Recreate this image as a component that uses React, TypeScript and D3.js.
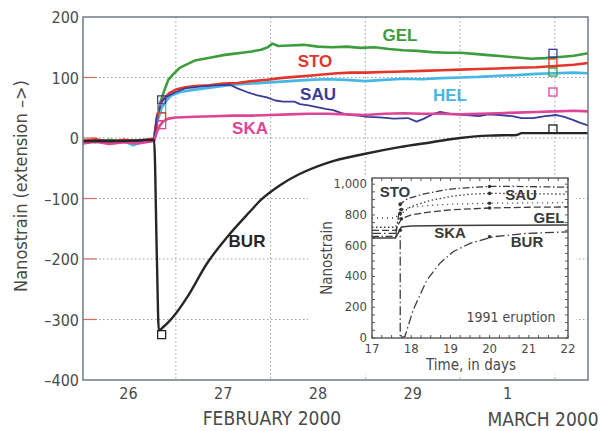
import React from 'react';
import * as d3 from 'd3';

type Pt = [number, number];

// main chart: days after 26 Feb 2000 00:00, nanostrain
const GEL: Pt[] = [[0.02,-4],[0.15,-7],[0.3,-3],[0.45,-6],[0.6,-4],[0.77,-2],[0.8,30],[0.83,55],[0.87,75],[0.92,96],[0.97,105],[1.04,116],[1.12,122],[1.2,128],[1.3,131],[1.4,134],[1.5,137],[1.6,139],[1.7,141],[1.8,143],[1.9,146],[1.97,150],[2.02,156],[2.08,152],[2.2,153],[2.35,154],[2.5,151],[2.65,150],[2.8,151],[2.95,149],[3.1,150],[3.25,147],[3.4,145],[3.55,144],[3.7,142],[3.85,141],[4.0,141],[4.15,139],[4.3,137],[4.45,135],[4.6,133],[4.75,131],[4.9,132],[5.05,134],[5.2,136],[5.35,140]];
const STO: Pt[] = [[0.02,-5],[0.15,-2],[0.3,-6],[0.45,-3],[0.6,-5],[0.77,-1],[0.8,35],[0.84,58],[0.88,66],[0.93,74],[1.0,80],[1.1,84],[1.2,86],[1.35,87],[1.5,90],[1.65,91],[1.8,94],[1.95,96],[2.1,99],[2.25,101],[2.4,103],[2.55,105],[2.7,107],[2.85,108],[3.0,108],[3.2,109],[3.4,110],[3.6,111],[3.8,112],[4.0,113],[4.2,114],[4.4,115],[4.6,116],[4.8,117],[5.0,119],[5.2,121],[5.35,124]];
const HEL: Pt[] = [[0.02,-8],[0.15,-4],[0.3,-9],[0.45,-5],[0.55,-12],[0.65,-6],[0.77,-4],[0.8,25],[0.85,50],[0.9,62],[0.95,70],[1.05,76],[1.2,80],[1.4,84],[1.6,88],[1.8,90],[2.0,92],[2.2,94],[2.4,96],[2.6,97],[2.8,96],[3.0,94],[3.2,96],[3.4,98],[3.6,97],[3.8,99],[4.0,100],[4.2,101],[4.4,103],[4.6,104],[4.8,106],[5.0,107],[5.2,108],[5.35,107]];
const SAU: Pt[] = [[0.02,-6],[0.2,-4],[0.4,-7],[0.6,-5],[0.77,-3],[0.8,35],[0.85,60],[0.9,68],[1.0,76],[1.1,82],[1.25,85],[1.4,87],[1.57,88],[1.65,82],[1.75,76],[1.85,71],[1.96,67],[2.05,62],[2.13,60],[2.25,60],[2.31,56],[2.4,54],[2.49,51],[2.58,48],[2.66,46],[2.75,41],[2.84,38],[2.93,37],[3.02,35],[3.15,34],[3.3,32],[3.45,33],[3.54,27],[3.62,32],[3.72,40],[3.79,43],[3.9,40],[4.07,38],[4.2,36],[4.3,39],[4.42,38],[4.55,36],[4.65,33],[4.77,33],[4.9,36],[5.02,38],[5.1,35],[5.19,30],[5.27,25],[5.35,21]];
const SKA: Pt[] = [[0.02,-9],[0.15,-6],[0.3,-10],[0.45,-7],[0.6,-9],[0.77,-5],[0.8,10],[0.83,20],[0.87,28],[0.92,32],[1.0,34],[1.2,35],[1.4,36],[1.6,37],[1.8,37],[2.0,38],[2.2,39],[2.4,40],[2.6,40],[2.8,39],[3.0,38],[3.2,40],[3.4,41],[3.6,40],[3.8,40],[4.0,39],[4.2,40],[4.4,41],[4.6,42],[4.8,43],[5.0,44],[5.2,45],[5.35,44]];
const BUR: Pt[] = [[0.02,-5],[0.3,-5],[0.6,-4],[0.77,-3],[0.8,-200],[0.82,-318],[0.87,-312],[1.0,-290],[1.12,-263],[1.33,-207],[1.54,-164],[1.78,-122],[1.9,-102],[2.1,-78],[2.3,-60],[2.6,-41],[3.0,-26],[3.36,-15],[3.7,-7],[4.0,0],[4.3,4],[4.6,5],[4.65,8],[5.0,8],[5.35,8]];

// open squares on the curves
const squareDays = [0.85, 0.85, 0.85, 0.85, 0.85, 4.98, 4.98, 4.98, 4.98, 4.98];
const squareVals = [63, 48, 35, 22, -325, 140, 124, 109, 76, 15];
const squareKeys = ['SAU', 'HEL', 'STO', 'SKA', 'BUR', 'SAU', 'STO', 'GEL', 'SKA', 'BUR'];

const yTicks = [200, 100, 0, -100, -200, -300, -400];
const gridVals = [100, 0, -100, -200, -300];
const gridDays = [1, 2, 3, 4, 5];
const dayTickPos = [0.5, 1.5, 2.5, 3.5, 4.5];
const dayTickText = ['26', '27', '28', '29', '1'];

// inset: 1991 eruption
const STO91: Pt[] = [[17,660],[17.6,660],[17.72,870],[17.9,905],[18.3,935],[18.7,955],[19,968],[19.5,978],[20,985],[20.5,986],[21,984],[22,980]];
const SAU91: Pt[] = [[17,720],[17.6,720],[17.75,810],[18,855],[18.5,895],[19,920],[19.5,935],[20,940],[21,938],[22,935]];
const HEL91: Pt[] = [[17,780],[17.6,780],[17.75,835],[18,850],[18.5,862],[19,870],[20,876],[21,878],[22,880]];
const GEL91: Pt[] = [[17,700],[17.6,700],[17.75,775],[18,800],[18.5,820],[19,833],[20,845],[21,850],[22,852]];
const SKA91: Pt[] = [[17,650],[17.6,650],[17.75,722],[18,728],[19,731],[20,733],[22,734]];
const BUR91: Pt[] = [[17,680],[17.6,680],[17.72,660],[17.72,0],[17.84,10],[18.05,182],[18.4,377],[18.73,485],[19.07,561],[19.5,615],[20.09,658],[20.95,680],[22,690]];
const dot91Days = [17.72, 17.72, 17.72, 17.75, 17.75, 20, 20, 20, 20, 20];
const dot91Vals = [870, 810, 700, 835, 775, 985, 940, 876, 845, 658];
const insetYTicks = [0, 200, 400, 600, 800, 1000];
const insetXTicks = [17, 18, 19, 20, 21, 22];

const colors: Record<string, string> = {
  GEL: '#3d9c3b', STO: '#e4352b', HEL: '#45b6e6', SAU: '#3a3d98', SKA: '#de4597', BUR: '#262626',
};

const narrow = "'Liberation Sans Narrow', 'DejaVu Sans Condensed', 'Liberation Sans', sans-serif";
const sans = "'Liberation Sans', Arial, sans-serif";
const txt = '#4a4a4a';

export default function App() {
  const x = d3.scaleLinear().domain([0.02, 5.35]).range([83, 588]);
  const y = d3.scaleLinear().domain([-400, 200]).range([380, 17]);
  const mline = d3.line<Pt>().x(d => x(d[0])).y(d => y(d[1]));
  const smooth = d3.line<Pt>().x(d => x(d[0])).y(d => y(d[1])).curve(d3.curveMonotoneX);

  const ix = d3.scaleLinear().domain([17, 22]).range([372, 568]);
  const iy = d3.scaleLinear().domain([0, 1040]).range([338, 178]);
  const iline = d3.line<Pt>().x(d => ix(d[0])).y(d => iy(d[1]));

  const fmtY = (v: number) => (v < 0 ? '\u2013' + Math.abs(v) : String(v));

  const main: [string, Pt[], number][] = [
    ['HEL', HEL, 2.6], ['GEL', GEL, 2.6], ['STO', STO, 2.6], ['SAU', SAU, 1.8], ['SKA', SKA, 2.6],
  ];
  const inset: [Pt[], string, number][] = [
    [STO91, '7,2.5,1.5,2.5', 1.3], [SAU91, '1.5,2.5', 1.3], [HEL91, '1,4', 1.3],
    [GEL91, '7,3', 1.3], [SKA91, '', 1.5], [BUR91, '9,3,1.5,3', 1.3],
  ];

  const ixMinor = d3.range(17, 22.001, 0.25);
  const iyMinor = d3.range(0, 1040, 50);

  return (
    <svg width={605} height={431} style={{ position: 'absolute', left: 0, top: 0, background: '#fff' }}>
      {/* grid */}
      <g stroke="#8fa3b3" strokeWidth={1} strokeDasharray="1.5,2.5">
        {gridDays.map(d => <line key={'gx' + d} x1={x(d)} x2={x(d)} y1={17} y2={380} />)}
        {gridVals.map(v => <line key={'gy' + v} x1={83} x2={588} y1={y(v)} y2={y(v)} />)}
      </g>
      <g stroke="#d66a5e" strokeWidth={1.2}>
        {gridVals.map(v => <line key={'rt' + v} x1={83} x2={97} y1={y(v)} y2={y(v)} />)}
      </g>

      {/* series */}
      {main.map(([k, data, w]) => (
        <path key={k} d={mline(data) || ''} fill="none" stroke={colors[k]} strokeWidth={w} strokeLinejoin="round" />
      ))}
      <path d={smooth(BUR) || ''} fill="none" stroke={colors.BUR} strokeWidth={2.4} strokeLinejoin="round" />
      {squareKeys.map((k, i) => (
        <rect key={'sq' + i} x={x(squareDays[i]) - 4} y={y(squareVals[i]) - 4} width={8} height={8}
          fill="none" stroke={colors[k]} strokeWidth={1.3} />
      ))}

      {/* series labels */}
      <g fontFamily={sans} fontWeight="bold" fontSize={17} textAnchor="middle">
        <text x={400} y={41} fill={colors.GEL}>GEL</text>
        <text x={315} y={67} fill={colors.STO}>STO</text>
        <text x={318} y={100} fill={colors.SAU}>SAU</text>
        <text x={450} y={101} fill={colors.HEL}>HEL</text>
        <text x={250} y={134} fill={colors.SKA}>SKA</text>
        <text x={247} y={247} fill={colors.BUR}>BUR</text>
      </g>

      {/* main frame */}
      <rect x={83} y={17} width={505} height={363} fill="none" stroke="#6f7b85" strokeWidth={1.5} />

      {/* main axes text */}
      <g fontFamily={narrow} fontSize={16} fill={txt} textAnchor="end">
        {yTicks.map(v => <text key={'yt' + v} x={79} y={y(v) + 6}>{fmtY(v)}</text>)}
      </g>
      <g fontFamily={narrow} fontSize={16} fill={txt} textAnchor="middle">
        {dayTickPos.map((d, i) => <text key={'xt' + i} x={x(d)} y={399}>{dayTickText[i]}</text>)}
      </g>
      <text x={272} y={425} fontFamily={narrow} fontSize={19} fill={txt} textAnchor="middle">FEBRUARY 2000</text>
      <text x={543} y={426} fontFamily={narrow} fontSize={19} fill={txt} textAnchor="middle">MARCH 2000</text>
      <text transform="translate(27,186) rotate(-90)" fontFamily={narrow} fontSize={18} fill={txt} textAnchor="middle">
        Nanostrain (extension {'\u2013'}&gt;)
      </text>

      {/* inset */}
      <rect x={308} y={175} width={268} height={199} fill="#fff" />
      <g fill="none" stroke="#555" strokeWidth={1}>
        {ixMinor.map((d, i) => (
          <g key={'ixm' + i}>
            <line x1={ix(d)} x2={ix(d)} y1={338} y2={335} />
            <line x1={ix(d)} x2={ix(d)} y1={178} y2={181} />
          </g>
        ))}
        {iyMinor.map((v, i) => (
          <g key={'iym' + i}>
            <line x1={372} x2={375} y1={iy(v)} y2={iy(v)} />
            <line x1={568} x2={565} y1={iy(v)} y2={iy(v)} />
          </g>
        ))}
      </g>
      {inset.map(([data, dash, w], i) => (
        <path key={'in' + i} d={iline(data) || ''} fill="none" stroke="#3c3c3c" strokeWidth={w} strokeDasharray={dash} />
      ))}
      {dot91Days.map((d, i) => <circle key={'dt' + i} cx={ix(d)} cy={iy(dot91Vals[i])} r={1.8} fill="#333" />)}
      <rect x={372} y={178} width={196} height={160} fill="none" stroke="#555" strokeWidth={1.4} />
      <g fontFamily={narrow} fontSize={13} fill={txt} textAnchor="end">
        {insetYTicks.map(v => <text key={'iyt' + v} x={367} y={iy(v) + 4}>{d3.format(',')(v)}</text>)}
      </g>
      <g fontFamily={narrow} fontSize={13} fill={txt} textAnchor="middle">
        {insetXTicks.map(v => <text key={'ixt' + v} x={ix(v)} y={353}>{v}</text>)}
      </g>
      <text x={471} y={370} fontFamily={narrow} fontSize={15} fill={txt} textAnchor="middle">Time, in days</text>
      <text transform="translate(332,258) rotate(-90)" fontFamily={narrow} fontSize={15} fill={txt} textAnchor="middle">Nanostrain</text>
      <text x={511} y={322} fontFamily={narrow} fontSize={14} fill={txt} textAnchor="middle">1991 eruption</text>
      <g fontFamily={sans} fontWeight="bold" fontSize={15} fill="#3a3a3a" textAnchor="middle">
        <text x={395} y={197}>STO</text>
        <text x={521} y={200}>SAU</text>
        <text x={549} y={223}>GEL</text>
        <text x={450} y={238}>SKA</text>
        <text x={527} y={247}>BUR</text>
      </g>
    </svg>
  );
}
